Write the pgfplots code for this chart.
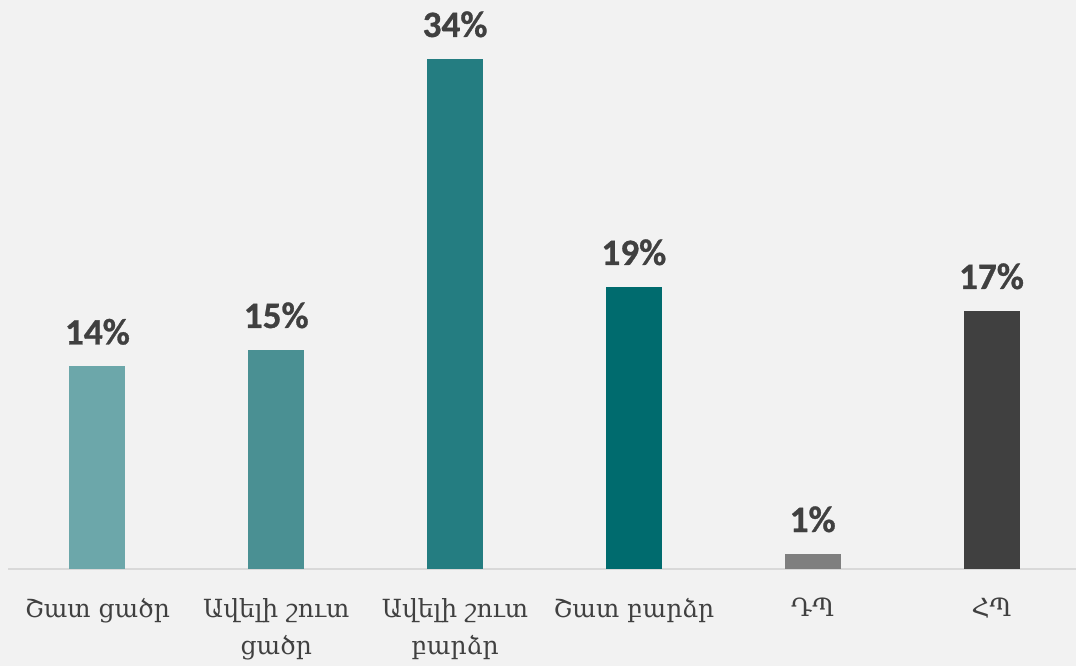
\documentclass[border=0pt]{standalone}
\usepackage{pgfplots}
\pgfplotsset{compat=1.18}
\usepackage{fontspec}
\setmainfont{Carlito}[BoldFeatures={FakeBold=0.8}]
\newfontfamily\armfont{DejaVu Serif}
\usetikzlibrary{backgrounds}
\definecolor{bg}{HTML}{F2F2F2}
\definecolor{cA}{HTML}{6CA7AA}
\definecolor{cB}{HTML}{4A9093}
\definecolor{cC}{HTML}{247D81}
\definecolor{cD}{HTML}{006B6E}
\definecolor{cE}{HTML}{7F7F7F}
\definecolor{cF}{HTML}{404040}
\definecolor{axgray}{HTML}{D9D9D9}
\definecolor{txt}{HTML}{404040}
\begin{document}
\begin{tikzpicture}
\begin{axis}[
  scale only axis, width=1073bp, height=510bp,
  xmin=-0.5, xmax=5.5, ymin=0, ymax=34,
  axis x line*=bottom, hide y axis,
  x axis line style={-, draw=axgray, line width=1.5bp},
  xtick={0,...,5},
  xticklabels={Շատ ցածր, {Ավելի շուտ\\ցածր}, {Ավելի շուտ\\բարձր}, Շատ բարձր, ԴՊ, ՀՊ},
  major tick length=0pt,
  xticklabel style={font=\armfont\fontsize{25bp}{37bp}\selectfont, align=center, anchor=north, inner sep=0pt, yshift=-29bp, text=txt},
  ybar, bar width=56bp, bar shift=0pt,
  nodes near coords, point meta=explicit symbolic,
  every node near coord/.append style={font=\bfseries\fontsize{37.2bp}{40bp}\selectfont, text=txt, anchor=base, yshift=22bp, inner sep=0pt},
  clip=false,
]
\addplot[fill=cA, draw=none, bar shift=0pt] coordinates {(0,13.5) [14\%]};
\addplot[fill=cB, draw=none, bar shift=0pt] coordinates {(1,14.6) [15\%]};
\addplot[fill=cC, draw=none, bar shift=0pt] coordinates {(2,34) [34\%]};
\addplot[fill=cD, draw=none, bar shift=0pt] coordinates {(3,18.8) [19\%]};
\addplot[fill=cE, draw=none, bar shift=0pt] coordinates {(4,1) [1\%]};
\addplot[fill=cF, draw=none, bar shift=0pt] coordinates {(5,17.2) [17\%]};
\coordinate (bl) at (rel axis cs:0,0);
\end{axis}
\pgfresetboundingbox
\path[use as bounding box] (bl) ++(-8bp,-97bp) rectangle ++(1076bp,666bp);
\begin{scope}[on background layer]
\fill[bg] (bl) ++(-8bp,-97bp) rectangle ++(1076bp,666bp);
\end{scope}
\end{tikzpicture}
\end{document}
